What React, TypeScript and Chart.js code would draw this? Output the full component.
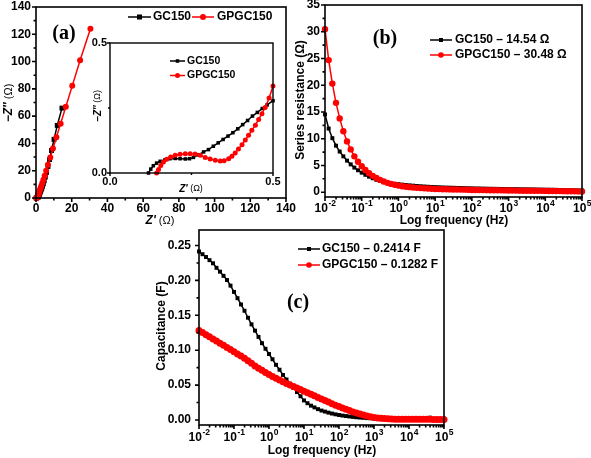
import React, { useEffect, useRef } from 'react';
import { Chart, registerables } from 'chart.js';

Chart.register(...registerables);

const W = 591;
const H = 458;
const SANS = '"Liberation Sans", Arial, Helvetica, sans-serif';
const SERIF = '"Liberation Serif", "Times New Roman", serif';
const BLACK = '#000000';
const RED = '#ff0000';

// ---------- (a) Nyquist plot: Z' (ohm) vs -Z'' (ohm)
const NYQ_GC150_ZRE = [14.54, 11.9, 10.1, 8.7, 7.6, 6.7, 5.9, 5.2, 4.6, 4.1, 3.65, 3.25, 2.9, 2.6, 2.32, 2.1, 1.9, 1.74, 1.6, 1.55, 1.5, 1.35, 1.22, 1.11, 1.02, 0.94, 0.7, 0.5, 0.3, 0.12];
const NYQ_GC150_ZIM = [65.9, 53.2, 43.0, 34.8, 28.2, 23.1, 18.8, 15.4, 12.6, 10.4, 8.67, 7.24, 6.07, 5.1, 4.33, 3.67, 3.12, 2.67, 2.29, 1.96, 1.68, 1.27, 0.98, 0.77, 0.63, 0.57, 0.45, 0.28, 0.09, 0];
const NYQ_GPGC150_ZRE = [30.48, 24.7, 20.3, 16.7, 13.8, 11.4, 9.5, 8.0, 6.7, 5.7, 4.85, 4.15, 3.55, 3.05, 2.65, 2.3, 2.0, 1.75, 1.55, 1.38, 1.24, 1.02, 0.87, 0.76, 0.68, 0.62, 0.5, 0.4, 0.3, 0.14];
const NYQ_GPGC150_ZIM = [124.1, 101.0, 82.2, 66.9, 54.5, 44.5, 36.3, 29.7, 24.3, 19.9, 16.3, 13.4, 11.0, 9.02, 7.46, 6.2, 5.16, 4.28, 3.54, 2.95, 2.45, 1.68, 1.16, 0.8, 0.55, 0.38, 0.337, 0.1, 0.05, 0];

// ---------- (a) inset: high-frequency region
const INS_GC150_ZRE = [0.118, 0.125, 0.133, 0.143, 0.154, 0.169, 0.184, 0.2, 0.215, 0.231, 0.244, 0.256, 0.272, 0.287, 0.302, 0.317, 0.332, 0.347, 0.362, 0.377, 0.392, 0.407, 0.422, 0.437, 0.452, 0.467, 0.482, 0.5];
const INS_GC150_ZIM = [0, 0.015, 0.028, 0.038, 0.045, 0.051, 0.055, 0.056, 0.055, 0.054, 0.055, 0.06, 0.07, 0.081, 0.09, 0.103, 0.116, 0.129, 0.142, 0.155, 0.17, 0.186, 0.202, 0.219, 0.233, 0.248, 0.262, 0.278];
const INS_GPGC150_ZRE = [0.143, 0.149, 0.156, 0.164, 0.174, 0.186, 0.2, 0.215, 0.231, 0.246, 0.261, 0.277, 0.292, 0.307, 0.323, 0.338, 0.35, 0.364, 0.374, 0.384, 0.394, 0.405, 0.415, 0.425, 0.435, 0.446, 0.456, 0.466, 0.476, 0.488, 0.5];
const INS_GPGC150_ZIM = [0, 0.013, 0.029, 0.042, 0.053, 0.062, 0.068, 0.072, 0.074, 0.074, 0.073, 0.068, 0.06, 0.054, 0.049, 0.046, 0.047, 0.055, 0.064, 0.077, 0.092, 0.109, 0.127, 0.145, 0.164, 0.184, 0.206, 0.228, 0.252, 0.288, 0.335];

// ---------- frequencies (Hz) for (b) and (c)
const FREQ = [
  0.01, 0.01259, 0.01585, 0.01995, 0.02512, 0.03162, 0.03981, 0.05012, 0.0631, 0.07943,
  0.1, 0.1259, 0.1585, 0.1995, 0.2512, 0.3162, 0.3981, 0.5012, 0.631, 0.7943,
  1, 1.259, 1.585, 1.995, 2.512, 3.162, 3.981, 5.012, 6.31, 7.943,
  10, 12.59, 15.85, 19.95, 25.12, 31.62, 39.81, 50.12, 63.1, 79.43,
  100, 125.9, 158.5, 199.5, 251.2, 316.2, 398.1, 501.2, 631, 794.3,
  1000, 1259, 1585, 1995, 2512, 3162, 3981, 5012, 6310, 7943,
  10000, 12590, 15850, 19950, 25120, 31620, 39810, 50120, 63100, 79430,
  100000,
];

// ---------- (b) series resistance (ohm)
const RES_GC150 = [
  14.54, 11.9, 10.1, 8.7, 7.6, 6.7, 5.9, 5.2, 4.6, 4.1,
  3.65, 3.25, 2.9, 2.6, 2.32, 2.1, 1.9, 1.74, 1.62, 1.55,
  1.5, 1.42, 1.35, 1.28, 1.22, 1.16, 1.11, 1.06, 1.02, 0.98,
  0.95, 0.92, 0.89, 0.86, 0.84, 0.82, 0.8, 0.78, 0.76, 0.74,
  0.72, 0.7, 0.69, 0.67, 0.66, 0.64, 0.63, 0.62, 0.6, 0.59,
  0.58, 0.57, 0.56, 0.55, 0.54, 0.53, 0.52, 0.51, 0.5, 0.49,
  0.47, 0.46, 0.45, 0.43, 0.42, 0.4, 0.39, 0.37, 0.35, 0.33,
  0.31,
];
const RES_GPGC150 = [
  30.48, 24.7, 20.3, 16.7, 13.8, 11.4, 9.5, 8.0, 6.7, 5.7,
  4.85, 4.15, 3.55, 3.05, 2.65, 2.3, 2.0, 1.75, 1.55, 1.38,
  1.24, 1.12, 1.02, 0.94, 0.87, 0.81, 0.76, 0.72, 0.68, 0.65,
  0.6, 0.58, 0.56, 0.54, 0.52, 0.5, 0.49, 0.48, 0.47, 0.46,
  0.42, 0.41, 0.4, 0.39, 0.38, 0.37, 0.36, 0.35, 0.34, 0.33,
  0.32, 0.31, 0.3, 0.29, 0.28, 0.27, 0.27, 0.26, 0.25, 0.25,
  0.24, 0.23, 0.22, 0.21, 0.2, 0.19, 0.18, 0.17, 0.16, 0.15,
  0.14,
];

// ---------- (c) capacitance (F)
const CAP_GC150 = [
  0.2414, 0.2375, 0.2335, 0.229, 0.2245, 0.218, 0.2125, 0.2065, 0.2005, 0.1925,
  0.1835, 0.1745, 0.1655, 0.1565, 0.1465, 0.137, 0.128, 0.119, 0.11, 0.102,
  0.0945, 0.087, 0.079, 0.072, 0.0645, 0.058, 0.052, 0.046, 0.04, 0.034,
  0.028, 0.024, 0.0205, 0.018, 0.0155, 0.0135, 0.012, 0.0105, 0.0092, 0.0081,
  0.0071, 0.0063, 0.0056, 0.005, 0.0044, 0.0039, 0.0035, 0.0031, 0.0027, 0.0024,
  0.0021, 0.0019, 0.0017, 0.0015, 0.0014, 0.0013, 0.0012, 0.0011, 0.0011, 0.001,
  0.001, 0.001, 0.0009, 0.0009, 0.0009, 0.0012, 0.0033, 0.0009, 0.0008, 0.0008,
  0.0008,
];
const CAP_GPGC150 = [
  0.1282, 0.1252, 0.1222, 0.1192, 0.1162, 0.1132, 0.1101, 0.107, 0.1039, 0.1008,
  0.0977, 0.0946, 0.0915, 0.0884, 0.0849, 0.0812, 0.0775, 0.0742, 0.0712, 0.068,
  0.065, 0.0622, 0.0597, 0.0572, 0.0547, 0.0524, 0.0501, 0.048, 0.0458, 0.0436,
  0.0412, 0.039, 0.0368, 0.0346, 0.0323, 0.03, 0.0278, 0.0256, 0.0234, 0.0212,
  0.0192, 0.0172, 0.0153, 0.0134, 0.0116, 0.0099, 0.0084, 0.007, 0.0057, 0.0046,
  0.0037, 0.003, 0.0024, 0.002, 0.0017, 0.0014, 0.0012, 0.0011, 0.0011, 0.001,
  0.001, 0.001, 0.0009, 0.0009, 0.0009, 0.0009, 0.0009, 0.0008, 0.0008, 0.0008,
  0.0008,
];

// ---------- ticks and labels
const A_TICKS = [0, 20, 40, 60, 80, 100, 120, 140];
const A_MINOR = [10, 30, 50, 70, 90, 110, 130];
const INSET_TICKS = [0, 0.5];
const INSET_TICK_LABELS = ['0.0', '0.5'];
const INSET_MINOR = [0.25];
const B_Y_TICKS = [0, 5, 10, 15, 20, 25, 30, 35];
const B_Y_MINOR = [2.5, 7.5, 12.5, 17.5, 22.5, 27.5, 32.5];
const C_Y_TICKS = [0, 0.05, 0.1, 0.15, 0.2, 0.25];
const C_Y_TICK_LABELS = ['0.00', '0.05', '0.10', '0.15', '0.20', '0.25'];
const C_Y_MINOR = [0.025, 0.075, 0.125, 0.175, 0.225];
const LOG_TICKS = [0.01, 0.1, 1, 10, 100, 1000, 10000, 100000];
const LOG_TICK_EXP = ['-2', '-1', '0', '1', '2', '3', '4', '5'];
const LOG_MINOR_MULT = [2, 3, 4, 5, 6, 7, 8, 9];

const SERIES_NAMES = ['GC150', 'GPGC150'];
const B_LEGEND = ['GC150 \u2013 14.54 \u03A9', 'GPGC150 \u2013 30.48 \u03A9'];
const C_LEGEND = ['GC150 \u2013 0.2414 F', 'GPGC150 \u2013 0.1282 F'];

type Area = { l: number; t: number; r: number; b: number };
type Seg = { t: string; f: string };

const logMinor = LOG_TICKS.slice(0, -1).flatMap((d) => LOG_MINOR_MULT.map((m) => d * m));

function series(xs: number[], ys: number[], color: string, style: string, r: number, order: number) {
  return {
    data: xs.map((x, i) => ({ x, y: ys[i] })),
    showLine: true,
    borderColor: color,
    backgroundColor: color,
    borderWidth: 1.5,
    pointStyle: style,
    pointRadius: r,
    pointBorderWidth: 0,
    pointBackgroundColor: color,
    pointBorderColor: color,
    tension: 0,
    order,
    clip: false,
  };
}

function makeChart(canvas: HTMLCanvasElement, area: Area, xs: any, ys: any, datasets: any[], draw: (c: any) => void) {
  return new Chart(canvas, {
    type: 'scatter',
    data: { datasets },
    options: {
      responsive: false,
      maintainAspectRatio: false,
      animation: false,
      devicePixelRatio: 1,
      events: [],
      layout: { padding: { left: area.l, top: area.t, right: W - area.r, bottom: H - area.b } },
      scales: { x: { ...xs, display: false }, y: { ...ys, display: false } },
      plugins: { legend: { display: false }, tooltip: { enabled: false } },
    } as any,
    plugins: [{ id: 'deco', afterDraw: (c: any) => draw(c) }],
  } as any);
}

function rich(ctx: CanvasRenderingContext2D, segs: Seg[], cx: number, cy: number, rot = 0) {
  ctx.save();
  ctx.translate(cx, cy);
  if (rot) ctx.rotate(rot);
  ctx.textBaseline = 'middle';
  ctx.textAlign = 'left';
  ctx.fillStyle = BLACK;
  let total = 0;
  for (const s of segs) {
    ctx.font = s.f;
    total += ctx.measureText(s.t).width;
  }
  let x = -total / 2;
  for (const s of segs) {
    ctx.font = s.f;
    ctx.fillText(s.t, x, 0);
    x += ctx.measureText(s.t).width;
  }
  ctx.restore();
}

function frameAndTicks(c: any, o: { xMaj: number[]; xMin: number[]; yMaj: number[]; yMin: number[]; tl: number; ml: number; lw: number }) {
  const ctx: CanvasRenderingContext2D = c.ctx;
  const ca = c.chartArea;
  const sx = c.scales.x;
  const sy = c.scales.y;
  ctx.save();
  ctx.strokeStyle = BLACK;
  ctx.lineWidth = o.lw;
  ctx.beginPath();
  o.xMaj.forEach((v) => { const p = sx.getPixelForValue(v); ctx.moveTo(p, ca.bottom); ctx.lineTo(p, ca.bottom + o.tl); });
  o.xMin.forEach((v) => { const p = sx.getPixelForValue(v); ctx.moveTo(p, ca.bottom); ctx.lineTo(p, ca.bottom + o.ml); });
  o.yMaj.forEach((v) => { const p = sy.getPixelForValue(v); ctx.moveTo(ca.left, p); ctx.lineTo(ca.left - o.tl, p); });
  o.yMin.forEach((v) => { const p = sy.getPixelForValue(v); ctx.moveTo(ca.left, p); ctx.lineTo(ca.left - o.ml, p); });
  ctx.stroke();
  ctx.strokeRect(ca.left, ca.top, ca.right - ca.left, ca.bottom - ca.top);
  ctx.restore();
}

function yLabels(c: any, vals: number[], labels: string[], right: number, font: string) {
  const ctx: CanvasRenderingContext2D = c.ctx;
  ctx.save();
  ctx.font = font;
  ctx.fillStyle = BLACK;
  ctx.textAlign = 'right';
  ctx.textBaseline = 'middle';
  vals.forEach((v, i) => ctx.fillText(labels[i], right, c.scales.y.getPixelForValue(v)));
  ctx.restore();
}

function xLabels(c: any, vals: number[], labels: string[], y: number, font: string) {
  const ctx: CanvasRenderingContext2D = c.ctx;
  ctx.save();
  ctx.font = font;
  ctx.fillStyle = BLACK;
  ctx.textAlign = 'center';
  ctx.textBaseline = 'middle';
  vals.forEach((v, i) => ctx.fillText(labels[i], c.scales.x.getPixelForValue(v), y));
  ctx.restore();
}

function xPowLabels(c: any, y: number) {
  const ctx: CanvasRenderingContext2D = c.ctx;
  const bf = `bold 12px ${SANS}`;
  const ef = `bold 8.5px ${SANS}`;
  ctx.save();
  ctx.fillStyle = BLACK;
  ctx.textAlign = 'left';
  ctx.textBaseline = 'middle';
  LOG_TICKS.forEach((v, i) => {
    const px = c.scales.x.getPixelForValue(v);
    ctx.font = bf;
    const w1 = ctx.measureText('10').width;
    ctx.font = ef;
    const w2 = ctx.measureText(LOG_TICK_EXP[i]).width;
    const x0 = px - (w1 + w2) / 2;
    ctx.font = bf;
    ctx.fillText('10', x0, y);
    ctx.font = ef;
    ctx.fillText(LOG_TICK_EXP[i], x0 + w1 + 0.5, y - 5);
  });
  ctx.restore();
}

function legendEntry(ctx: CanvasRenderingContext2D, x0: number, x1: number, y: number, color: string, square: boolean, size: number, text: string, tx: number, font: string) {
  ctx.save();
  ctx.strokeStyle = color;
  ctx.fillStyle = color;
  ctx.lineWidth = 1.5;
  ctx.beginPath();
  ctx.moveTo(x0, y);
  ctx.lineTo(x1, y);
  ctx.stroke();
  const mx = (x0 + x1) / 2;
  if (square) {
    ctx.fillRect(mx - size / 2, y - size / 2, size, size);
  } else {
    ctx.beginPath();
    ctx.arc(mx, y, size / 2, 0, Math.PI * 2);
    ctx.fill();
  }
  ctx.fillStyle = BLACK;
  ctx.font = font;
  ctx.textAlign = 'left';
  ctx.textBaseline = 'middle';
  ctx.fillText(text, tx, y);
  ctx.restore();
}

function panelLabel(ctx: CanvasRenderingContext2D, text: string, x: number, y: number) {
  ctx.save();
  ctx.font = `bold 20px ${SERIF}`;
  ctx.fillStyle = BLACK;
  ctx.textAlign = 'center';
  ctx.textBaseline = 'middle';
  ctx.fillText(text, x, y);
  ctx.restore();
}

const TICK_FONT = `bold 12px ${SANS}`;
const TITLE_FONT = `bold 12px ${SANS}`;

export default function App() {
  const aRef = useRef<HTMLCanvasElement>(null);
  const insRef = useRef<HTMLCanvasElement>(null);
  const bRef = useRef<HTMLCanvasElement>(null);
  const cRef = useRef<HTMLCanvasElement>(null);

  useEffect(() => {
    const charts: Chart[] = [];

    // (a) main Nyquist
    charts.push(makeChart(
      aRef.current!,
      { l: 36, t: 7, r: 286, b: 198 },
      { type: 'linear', min: 0, max: 140 },
      { type: 'linear', min: 0, max: 140 },
      [
        series(NYQ_GC150_ZRE, NYQ_GC150_ZIM, BLACK, 'rect', 3.5, 2),
        series(NYQ_GPGC150_ZRE, NYQ_GPGC150_ZIM, RED, 'circle', 3, 1),
      ],
      (c) => {
        const ctx = c.ctx as CanvasRenderingContext2D;
        frameAndTicks(c, { xMaj: A_TICKS, xMin: A_MINOR, yMaj: A_TICKS, yMin: A_MINOR, tl: 4, ml: 2.5, lw: 1.6 });
        yLabels(c, A_TICKS, A_TICKS.map(String), 31, TICK_FONT);
        xLabels(c, A_TICKS, A_TICKS.map(String), 209, TICK_FONT);
        rich(ctx, [{ t: "Z'", f: `italic bold 12px ${SANS}` }, { t: ' (\u03A9)', f: `11px ${SANS}` }], 160, 221);
        rich(ctx, [{ t: "\u2212Z''", f: `italic bold 12px ${SANS}` }, { t: ' (\u03A9)', f: `11px ${SANS}` }], 9, 103, -Math.PI / 2);
        legendEntry(ctx, 128, 151, 17, BLACK, true, 5, SERIES_NAMES[0], 153, `bold 12px ${SANS}`);
        legendEntry(ctx, 192, 214, 17, RED, false, 6, SERIES_NAMES[1], 217, `bold 12px ${SANS}`);
        panelLabel(ctx, '(a)', 64, 34);
      },
    ));

    // (a) inset
    charts.push(makeChart(
      insRef.current!,
      { l: 110, t: 43, r: 273, b: 173 },
      { type: 'linear', min: 0, max: 0.5 },
      { type: 'linear', min: 0, max: 0.5 },
      [
        series(INS_GC150_ZRE, INS_GC150_ZIM, BLACK, 'rect', 2.5, 2),
        series(INS_GPGC150_ZRE, INS_GPGC150_ZIM, RED, 'circle', 2.5, 1),
      ],
      (c) => {
        const ctx = c.ctx as CanvasRenderingContext2D;
        frameAndTicks(c, { xMaj: INSET_TICKS, xMin: INSET_MINOR, yMaj: INSET_TICKS, yMin: INSET_MINOR, tl: 3, ml: 2, lw: 1.4 });
        yLabels(c, INSET_TICKS, INSET_TICK_LABELS, 107, `bold 11px ${SANS}`);
        xLabels(c, INSET_TICKS, INSET_TICK_LABELS, 182, `bold 11px ${SANS}`);
        rich(ctx, [{ t: "Z'", f: `italic bold 10px ${SANS}` }, { t: ' (\u03A9)', f: `9px ${SANS}` }], 191, 189);
        rich(ctx, [{ t: "\u2212Z''", f: `italic bold 10px ${SANS}` }, { t: ' (\u03A9)', f: `9px ${SANS}` }], 98, 106, -Math.PI / 2);
        legendEntry(ctx, 170, 185, 61, BLACK, true, 3.5, SERIES_NAMES[0], 187, `bold 10.5px ${SANS}`);
        legendEntry(ctx, 170, 185, 75.5, RED, false, 5, SERIES_NAMES[1], 187, `bold 10.5px ${SANS}`);
      },
    ));

    // (b) series resistance
    charts.push(makeChart(
      bRef.current!,
      { l: 325, t: 5, r: 582, b: 197 },
      { type: 'logarithmic', min: 0.01, max: 100000 },
      { type: 'linear', min: -0.9, max: 35 },
      [
        series(FREQ, RES_GC150, BLACK, 'rect', 2.8, 2),
        series(FREQ, RES_GPGC150, RED, 'circle', 3.2, 1),
      ],
      (c) => {
        const ctx = c.ctx as CanvasRenderingContext2D;
        frameAndTicks(c, { xMaj: LOG_TICKS, xMin: logMinor, yMaj: B_Y_TICKS, yMin: B_Y_MINOR, tl: 4, ml: 2.5, lw: 1.6 });
        yLabels(c, B_Y_TICKS, B_Y_TICKS.map(String), 320, TICK_FONT);
        xPowLabels(c, 209);
        rich(ctx, [{ t: 'Log frequency (Hz)', f: TITLE_FONT }], 454, 221);
        rich(ctx, [{ t: 'Series resistance (\u03A9)', f: TITLE_FONT }], 301, 100, -Math.PI / 2);
        legendEntry(ctx, 430, 452, 40, BLACK, true, 4, B_LEGEND[0], 455, `bold 12px ${SANS}`);
        legendEntry(ctx, 430, 452, 55, RED, false, 5.6, B_LEGEND[1], 455, `bold 12px ${SANS}`);
        panelLabel(ctx, '(b)', 385, 39);
      },
    ));

    // (c) capacitance
    charts.push(makeChart(
      cRef.current!,
      { l: 199, t: 230, r: 444, b: 425 },
      { type: 'logarithmic', min: 0.01, max: 100000 },
      { type: 'linear', min: -0.0072, max: 0.2722 },
      [
        series(FREQ, CAP_GC150, BLACK, 'rect', 2.8, 2),
        series(FREQ, CAP_GPGC150, RED, 'circle', 3.5, 1),
      ],
      (c) => {
        const ctx = c.ctx as CanvasRenderingContext2D;
        frameAndTicks(c, { xMaj: LOG_TICKS, xMin: logMinor, yMaj: C_Y_TICKS, yMin: C_Y_MINOR, tl: 4, ml: 2.5, lw: 1.6 });
        yLabels(c, C_Y_TICKS, C_Y_TICK_LABELS, 191, TICK_FONT);
        xPowLabels(c, 437.5);
        rich(ctx, [{ t: 'Log frequency (Hz)', f: TITLE_FONT }], 322, 451);
        rich(ctx, [{ t: 'Capacitance (F)', f: TITLE_FONT }], 162, 326, -Math.PI / 2);
        legendEntry(ctx, 298, 320, 249, BLACK, true, 4, C_LEGEND[0], 322, `bold 12px ${SANS}`);
        legendEntry(ctx, 298, 320, 265, RED, false, 5.6, C_LEGEND[1], 322, `bold 12px ${SANS}`);
        panelLabel(ctx, '(c)', 298, 303);
      },
    ));

    return () => charts.forEach((ch) => ch.destroy());
  }, []);

  const cs: React.CSSProperties = { position: 'absolute', left: 0, top: 0, width: W, height: H };
  return (
    <div style={{ position: 'fixed', left: 0, top: 0, width: W, height: H, background: '#ffffff', overflow: 'hidden' }}>
      <canvas ref={aRef} width={W} height={H} style={cs} />
      <canvas ref={insRef} width={W} height={H} style={cs} />
      <canvas ref={bRef} width={W} height={H} style={cs} />
      <canvas ref={cRef} width={W} height={H} style={cs} />
    </div>
  );
}
